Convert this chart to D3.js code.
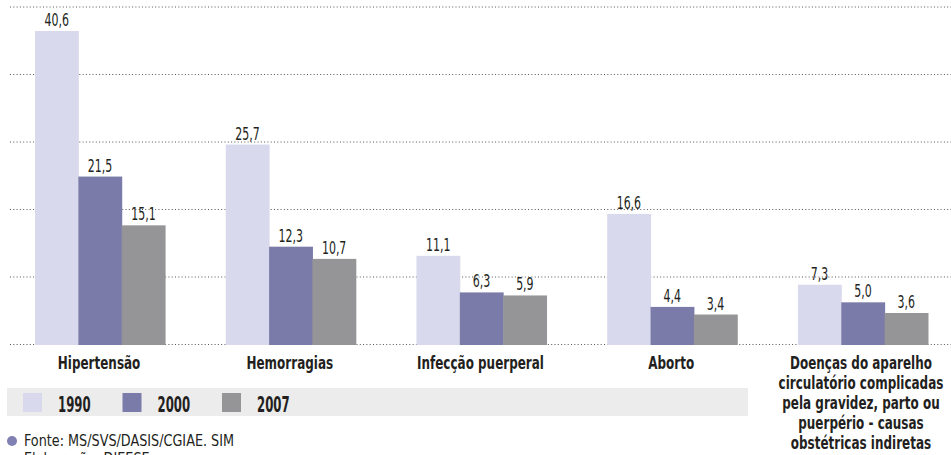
<!DOCTYPE html>
<html>
<head>
<meta charset="utf-8">
<script src="https://cdn.jsdelivr.net/npm/d3@7"></script>
<style>
  body { margin: 0; background: #fff; }
  text { font-family: "Liberation Sans Narrow", "DejaVu Sans Condensed", sans-serif; fill: #231f20; }
</style>
</head>
<body>
<div id="chart-container"></div>
<script>
// grouped bars - causas de morte materna, 1990 / 2000 / 2007

const categories = [
    ["Hipertensão"],
    ["Hemorragias"],
    ["Infecção puerperal"],
    ["Aborto"],
    ["Doenças do aparelho", "circulatório complicadas", "pela gravidez, parto ou", "puerpério - causas", "obstétricas indiretas"]
];
const years = ["1990", "2000", "2007"];
const values1990 = [40.6, 25.7, 11.1, 16.6, 7.3];
const values2000 = [21.5, 12.3, 6.3, 4.4, 5.0];
const values2007 = [15.1, 10.7, 5.9, 3.4, 3.6];
const sourceLines = ["Fonte: MS/SVS/DASIS/CGIAE. SIM", "Elaboração: DIEESE"];

const colors = ["#d9d9ed", "#7b7ba9", "#959597"];

const svgWidth = 951;
const svgHeight = 455;
const baseline = 345;
const squeeze = 0.74;   // condensed look for bold labels

const svg = d3.select("#chart-container")
    .append("svg")
    .attr("width", svgWidth)
    .attr("height", svgHeight);

const keys = categories.map(d => d.join(" "));
const series = [values1990, values2000, values2007];
const data = keys.map((k, i) => ({ key: k, lines: categories[i], vals: series.map(s => s[i]) }));

const x0 = d3.scaleBand()
    .domain(keys)
    .range([35, 928])
    .paddingInner(0.318)
    .paddingOuter(0);

const x1 = d3.scaleBand()
    .domain(years)
    .range([0, x0.bandwidth()]);

const y = d3.scaleLinear()
    .domain([-0.6, 40.6])
    .range([baseline, 31]);

// dotted gridlines
const gridStep = 67.5;
svg.append("g")
    .selectAll("line")
    .data(d3.range(6))
    .enter()
    .append("line")
    .attr("x1", 10)
    .attr("x2", svgWidth)
    .attr("y1", d => baseline - 0.5 - d * gridStep)
    .attr("y2", d => baseline - 0.5 - d * gridStep)
    .attr("stroke", "#555")
    .attr("stroke-width", 1)
    .attr("stroke-dasharray", "1,2.3");

const groups = svg.selectAll("g.group")
    .data(data)
    .enter()
    .append("g")
    .attr("class", "group")
    .attr("transform", d => `translate(${x0(d.key)},0)`);

groups.selectAll("rect")
    .data(d => d.vals.map((v, i) => ({ year: years[i], v: v, i: i })))
    .enter()
    .append("rect")
    .attr("x", d => x1(d.year))
    .attr("y", d => y(d.v))
    .attr("width", x1.bandwidth() + 0.5)
    .attr("height", d => baseline - y(d.v))
    .attr("fill", d => colors[d.i]);

groups.selectAll("text.val")
    .data(d => d.vals.map((v, i) => ({ year: years[i], v: v })))
    .enter()
    .append("text")
    .attr("class", "val")
    .attr("transform", d => `translate(${x1(d.year) + x1.bandwidth() / 2},${y(d.v) - 5}) scale(0.66,1)`)
    .attr("text-anchor", "middle")
    .attr("font-size", "18.5px")
    .text(d => d3.format(".1f")(d.v).replace(".", ","));

// category labels
groups.each(function(d) {
    const g = d3.select(this);
    d.lines.forEach((line, j) => {
        g.append("text")
            .attr("transform", `translate(${x0.bandwidth() / 2 - (d.lines.length > 1 ? 2 : 1)},${369 + j * 20}) scale(${squeeze},1)`)
            .attr("text-anchor", "middle")
            .attr("font-size", "18px")
            .attr("font-weight", "bold")
            .text(line);
    });
});

// legend band
svg.append("rect")
    .attr("x", 7)
    .attr("y", 388)
    .attr("width", 741)
    .attr("height", 28)
    .attr("fill", "#ececec");

const legend = svg.append("g")
    .selectAll("g")
    .data(years)
    .enter()
    .append("g")
    .attr("transform", (d, i) => `translate(${23 + i * 99.5},393)`);

legend.append("rect")
    .attr("width", 19)
    .attr("height", 19)
    .attr("fill", (d, i) => colors[i]);

legend.append("text")
    .attr("transform", `translate(35,19) scale(0.62,1)`)
    .attr("font-size", "21px")
    .attr("font-weight", "bold")
    .text(d => d);

// source
svg.append("circle")
    .attr("cx", 12)
    .attr("cy", 441)
    .attr("r", 5)
    .attr("fill", "#8080b2");

svg.selectAll("text.src")
    .data(sourceLines)
    .enter()
    .append("text")
    .attr("class", "src")
    .attr("transform", (d, i) => `translate(24,${446 + i * 18}) scale(0.89,1)`)
    .attr("font-size", "16px")
    .text(d => d);
</script>
</body>
</html>
